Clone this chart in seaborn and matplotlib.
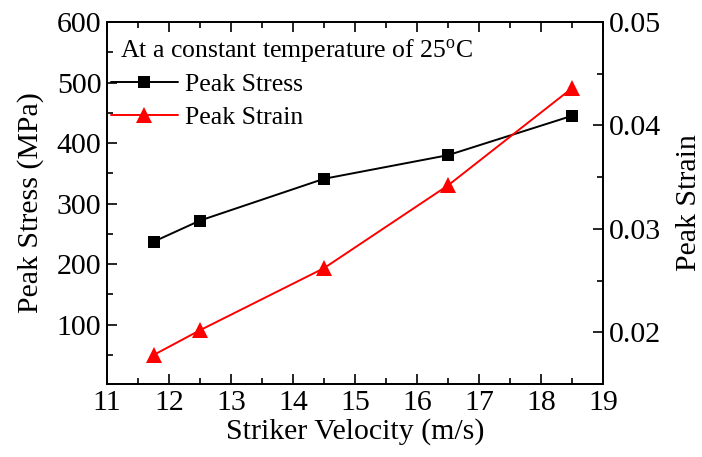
import matplotlib
matplotlib.use("Agg")
import matplotlib.pyplot as plt
import seaborn as sns
import pandas as pd
from matplotlib.ticker import MultipleLocator

velocity = [11.75, 12.5, 14.5, 16.5, 18.5]
peak_stress = [237, 272, 341, 380, 445]
peak_strain = [0.0178, 0.0202, 0.0262, 0.0342, 0.0436]

sns.set_theme(style="white")
plt.rcParams['font.family'] = ['Liberation Serif', 'DejaVu Serif']
plt.rcParams['mathtext.fontset'] = 'custom'
plt.rcParams['mathtext.rm'] = 'Liberation Serif'
plt.rcParams['mathtext.it'] = 'Liberation Serif:italic'
plt.rcParams['text.color'] = 'black'
plt.rcParams['axes.labelcolor'] = 'black'

df = pd.DataFrame({"v": velocity, "stress": peak_stress, "strain": peak_strain})

W, H = 702, 457
fig = plt.figure(figsize=(W/100, H/100), dpi=100)
ax = fig.add_axes([107/W, 1 - 384/H, (603-107)/W, (384-22)/H])
ax2 = ax.twinx()

sns.lineplot(data=df, x="v", y="stress", ax=ax, color="black", marker="s",
             markersize=8, markeredgewidth=0, linewidth=1.4, label="Peak Stress", legend=False)
sns.lineplot(data=df, x="v", y="strain", ax=ax2, color="red", marker="^",
             markersize=11, markeredgewidth=0, linewidth=1.4, label="Peak Strain", legend=False)

ax.set_xlim(11, 19)
ax.set_ylim(2, 600)
ax2.set_ylim(0.015, 0.05)

fs = 21.5
ax.set_xlabel("Striker Velocity (m/s)", fontsize=fs, labelpad=2, color="black")
ax.set_ylabel("Peak Stress (MPa)", fontsize=fs, labelpad=9, color="black")
ax2.set_ylabel("Peak Strain", fontsize=fs, labelpad=11, color="black")

ax.xaxis.set_major_locator(MultipleLocator(1))
ax.xaxis.set_minor_locator(MultipleLocator(0.5))
ax.yaxis.set_major_locator(MultipleLocator(100))
ax.yaxis.set_minor_locator(MultipleLocator(50))
ax2.yaxis.set_major_locator(MultipleLocator(0.01))
ax2.yaxis.set_minor_locator(MultipleLocator(0.005))
ax.set_yticks([100, 200, 300, 400, 500, 600])
ax2.set_yticks([0.02, 0.03, 0.04, 0.05])
ax2.set_yticklabels(["0.02", "0.03", "0.04", "0.05"])

for a in (ax, ax2):
    for s in a.spines.values():
        s.set_color("black")
        s.set_linewidth(1.3)
ax.tick_params(axis="both", which="major", direction="in", length=7, width=1.2,
               labelsize=fs, colors="black", top=True, bottom=True, pad=4)
ax.tick_params(axis="both", which="minor", direction="in", length=4, width=1.2,
               top=True, bottom=True, colors="black")
ax.tick_params(axis="y", which="both", left=True, right=False)
ax2.tick_params(axis="y", which="major", direction="in", length=7, width=1.2,
                labelsize=fs, colors="black", pad=4)
ax2.tick_params(axis="y", which="minor", direction="in", length=4, width=1.2, colors="black")

# legend title as separate text
fig.text(120/W, 1 - 51/H, "At a constant temperature of 25$^{\\mathrm{o}}$C",
         fontsize=18.5, color="black", ha="left", va="center")

h1, l1 = ax.get_legend_handles_labels()
h2, l2 = ax2.get_legend_handles_labels()
leg = ax.legend(h1 + h2, l1 + l2,
                loc="center left", bbox_to_anchor=(111/W, 1 - 101/H),
                bbox_transform=fig.transFigure, frameon=False,
                fontsize=18.5, handlelength=2.6, handletextpad=0.28,
                borderaxespad=0, labelspacing=0.36, borderpad=0)
for t in leg.get_texts():
    t.set_color("black")

fig.savefig("out.png", dpi=100)
